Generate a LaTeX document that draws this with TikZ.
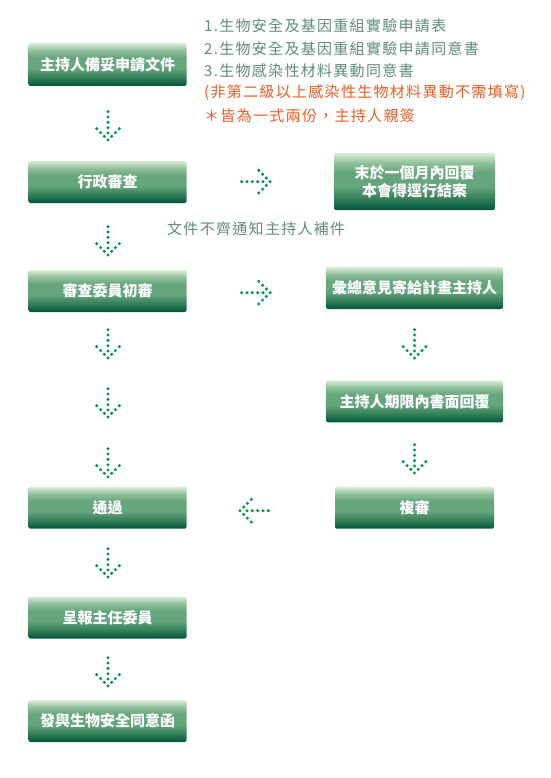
\documentclass[tikz,border=0pt]{standalone}
\usepackage{fontspec}
\setmainfont{Noto Sans CJK TC}
\newfontfamily\cjk{Noto Sans CJK TC}
\newfontfamily\cjkls[LetterSpace=8.7]{Noto Sans CJK TC}
\usetikzlibrary{calc}
\definecolor{gdark}{HTML}{00563B}
\definecolor{gtwo}{HTML}{2F7B56}
\definecolor{gmid}{HTML}{66A67D}
\definecolor{gfour}{HTML}{8DBF98}
\definecolor{glight}{HTML}{DCECD8}
\definecolor{dotgreen}{HTML}{009444}
\definecolor{graytext}{HTML}{5E8B7C}
\definecolor{orangetext}{HTML}{F15A24}
\pgfdeclareverticalshading{boxshade}{100bp}{color(0bp)=(gdark); color(25bp)=(gdark); color(34bp)=(gtwo); color(46bp)=(gmid); color(58bp)=(gmid); color(66bp)=(gfour); color(75bp)=(glight); color(100bp)=(glight)}
\tikzset{
  flowbox/.style={rounded corners=2pt, shade, shading=boxshade, text=white,
    font=\cjk\bfseries\fontsize{15}{18.3}\selectfont, minimum height=42pt,
    inner sep=0pt, align=center},
  notetext/.style={anchor=west, inner sep=0pt, font=\cjkls\fontsize{15}{15}\selectfont},
  dotarrow/.pic={
    \foreach \p in {(0,0),(3.7,-3.7),(-3.7,-3.7),(7.4,-7.4),(-7.4,-7.4),(11.3,-11.3),(-11.3,-11.3),(0,-7),(0,-12.3),(0,-17.7),(0,-23),(0,-28.3)}
      \fill[dotgreen] \p circle[radius=1.7pt];
  }
}
\begin{document}
\begin{tikzpicture}[x=1pt,y=-1pt]
\useasboundingbox (0,0) rectangle (550,778);
% left column
\node[flowbox, minimum width=158pt, minimum height=43pt] (n1) at (107.5,64.5) {主持人備妥申請文件};
\node[flowbox, minimum width=158pt] (n2) at (107.5,182) {行政審查};
\node[flowbox, minimum width=158pt] (n3) at (107.5,291) {審查委員初審};
\node[flowbox, minimum width=158pt] (n4) at (107.5,507.7) {通過};
\node[flowbox, minimum width=158pt] (n5) at (107.5,617.5) {呈報主任委員};
\node[flowbox, minimum width=158pt] (n6) at (107.5,721) {發與生物安全同意函};
% right column
\node[flowbox, minimum width=161pt, minimum height=57pt] (r1) at (414.5,181.5) {末於一個月內回覆\\本會得逕行結案};
\node[flowbox, minimum width=177pt] (r2) at (414.5,288) {彙總意見寄給計畫主持人};
\node[flowbox, minimum width=177pt] (r3) at (414.5,401.3) {主持人期限內書面回覆};
\node[flowbox, minimum width=159pt] (r4) at (414.5,507.7) {複審};
% notes
\node[notetext, text=graytext] (t1) at (204,26) {1.生物安全及基因重組實驗申請表};
\node[notetext, text=graytext] (t2) at (204,49) {2.生物安全及基因重組實驗申請同意書};
\node[notetext, text=graytext] (t3) at (204,71) {3.生物感染性材料異動同意書};
\node[notetext, text=orangetext] (t4) at (204,92.5) {(非第二級以上感染性生物材料異動不需填寫)};
\node[notetext, text=orangetext] (t5) at (204,116) {＊皆為一式兩份，主持人親簽};
\node[notetext, text=graytext, font=\cjkls\fontsize{15}{15}\selectfont] (t6) at (167,229) {文件不齊通知主持人補件};
% dotted arrows
\pic at (108,140) {dotarrow};
\pic at (108,255) {dotarrow};
\pic at (108,358) {dotarrow};
\pic at (108,417) {dotarrow};
\pic at (108,477) {dotarrow};
\pic at (108,577) {dotarrow};
\pic at (108,686) {dotarrow};
\pic at (414.5,358) {dotarrow};
\pic at (414.5,473) {dotarrow};
\pic[rotate=90] at (270,181.7) {dotarrow};
\pic[rotate=90] at (270,292.7) {dotarrow};
\pic[rotate=-90] at (240,510.7) {dotarrow};
\end{tikzpicture}
\end{document}
